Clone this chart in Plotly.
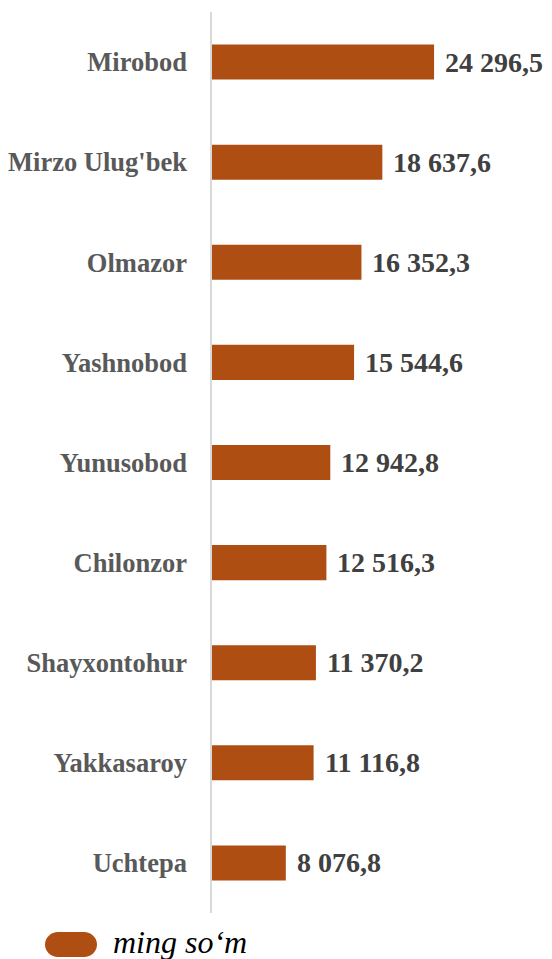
# 3rd party modules
import plotly.graph_objects as pgo

DISTRICTS = ['Mirobod', "Mirzo Ulug'bek", 'Olmazor', 'Yashnobod', 'Yunusobod',
             'Chilonzor', 'Shayxontohur', 'Yakkasaroy', 'Uchtepa']
VALUES = [24296.5, 18637.6, 16352.3, 15544.6, 12942.8, 12516.3, 11370.2, 11116.8, 8076.8]
SERIES_NAME = 'ming so\u2018m'

BAR_COLOR = '#AE4E13'
SERIF = 'Liberation Serif, Times New Roman, serif'
PAGE_OFF = 8  # page body margin
W, H = 552 - PAGE_OFF, 959 - PAGE_OFF
M_L, M_R, M_T, M_B = 204, 0, 4, 46
PLOT_W, PLOT_H = W - M_L - M_R, H - M_T - M_B


def fmt(v: float) -> str:
    # 24296.5 -> "24 296,5"
    return f"{v:,.1f}".replace(',', ' ').replace('.', ',')


def px_to_paper(x_px, y_px):
    # screen pixel -> paper coords of the plot area
    x_px -= PAGE_OFF
    y_px -= PAGE_OFF
    return (x_px - M_L) / PLOT_W, (H - M_B - y_px) / PLOT_H


def main():
    fig = pgo.Figure()
    fig.add_trace(pgo.Bar(
        y=DISTRICTS,
        x=VALUES,
        orientation='h',
        marker_color=BAR_COLOR,
        marker_line_width=0,
        name=SERIES_NAME,
        showlegend=False,
    ))
    for d, v in zip(DISTRICTS, VALUES):
        fig.add_annotation(
            x=v, y=d, text=fmt(v), showarrow=False,
            xanchor='left', xshift=9,
            font=dict(family=SERIF, size=28, color='#404040', weight='bold'),
        )

    # legend: rounded pill + italic label
    lx, ly = px_to_paper(71, 944.5)
    fig.add_shape(
        type='path', xref='paper', yref='paper',
        xsizemode='pixel', ysizemode='pixel', xanchor=lx, yanchor=ly,
        path=('M -13,-12.5 L 13,-12.5 C 20,-12.5 26,-7 26,0 C 26,7 20,12.5 13,12.5 '
              'L -13,12.5 C -20,12.5 -26,7 -26,0 C -26,-7 -20,-12.5 -13,-12.5 Z'),
        fillcolor=BAR_COLOR, line_width=0,
    )
    tx, ty = px_to_paper(111, 953)
    fig.add_annotation(
        x=tx, y=ty, xref='paper', yref='paper', text='<i>' + SERIES_NAME + '</i>',
        showarrow=False, xanchor='left', yanchor='bottom', yshift=-9,
        font=dict(family=SERIF, size=32, color='#000000'),
    )

    fig.update_layout(
        width=W, height=H,
        margin=dict(l=M_L, r=M_R, t=M_T, b=M_B),
        paper_bgcolor='white', plot_bgcolor='white',
        bargap=0.65,
        showlegend=False,
    )
    fig.update_xaxes(range=[0, 37200], visible=False, showgrid=False, zeroline=False)
    fig.update_yaxes(
        autorange='reversed', showgrid=False, zeroline=False,
        showline=True, linecolor='#D9D9D9', linewidth=1.5,
        ticks='', ticklabelstandoff=18,
        tickfont=dict(family=SERIF, size=26.5, color='#595959', weight='bold'),
    )
    fig.write_html('out.html')


if __name__ == '__main__':
    main()
